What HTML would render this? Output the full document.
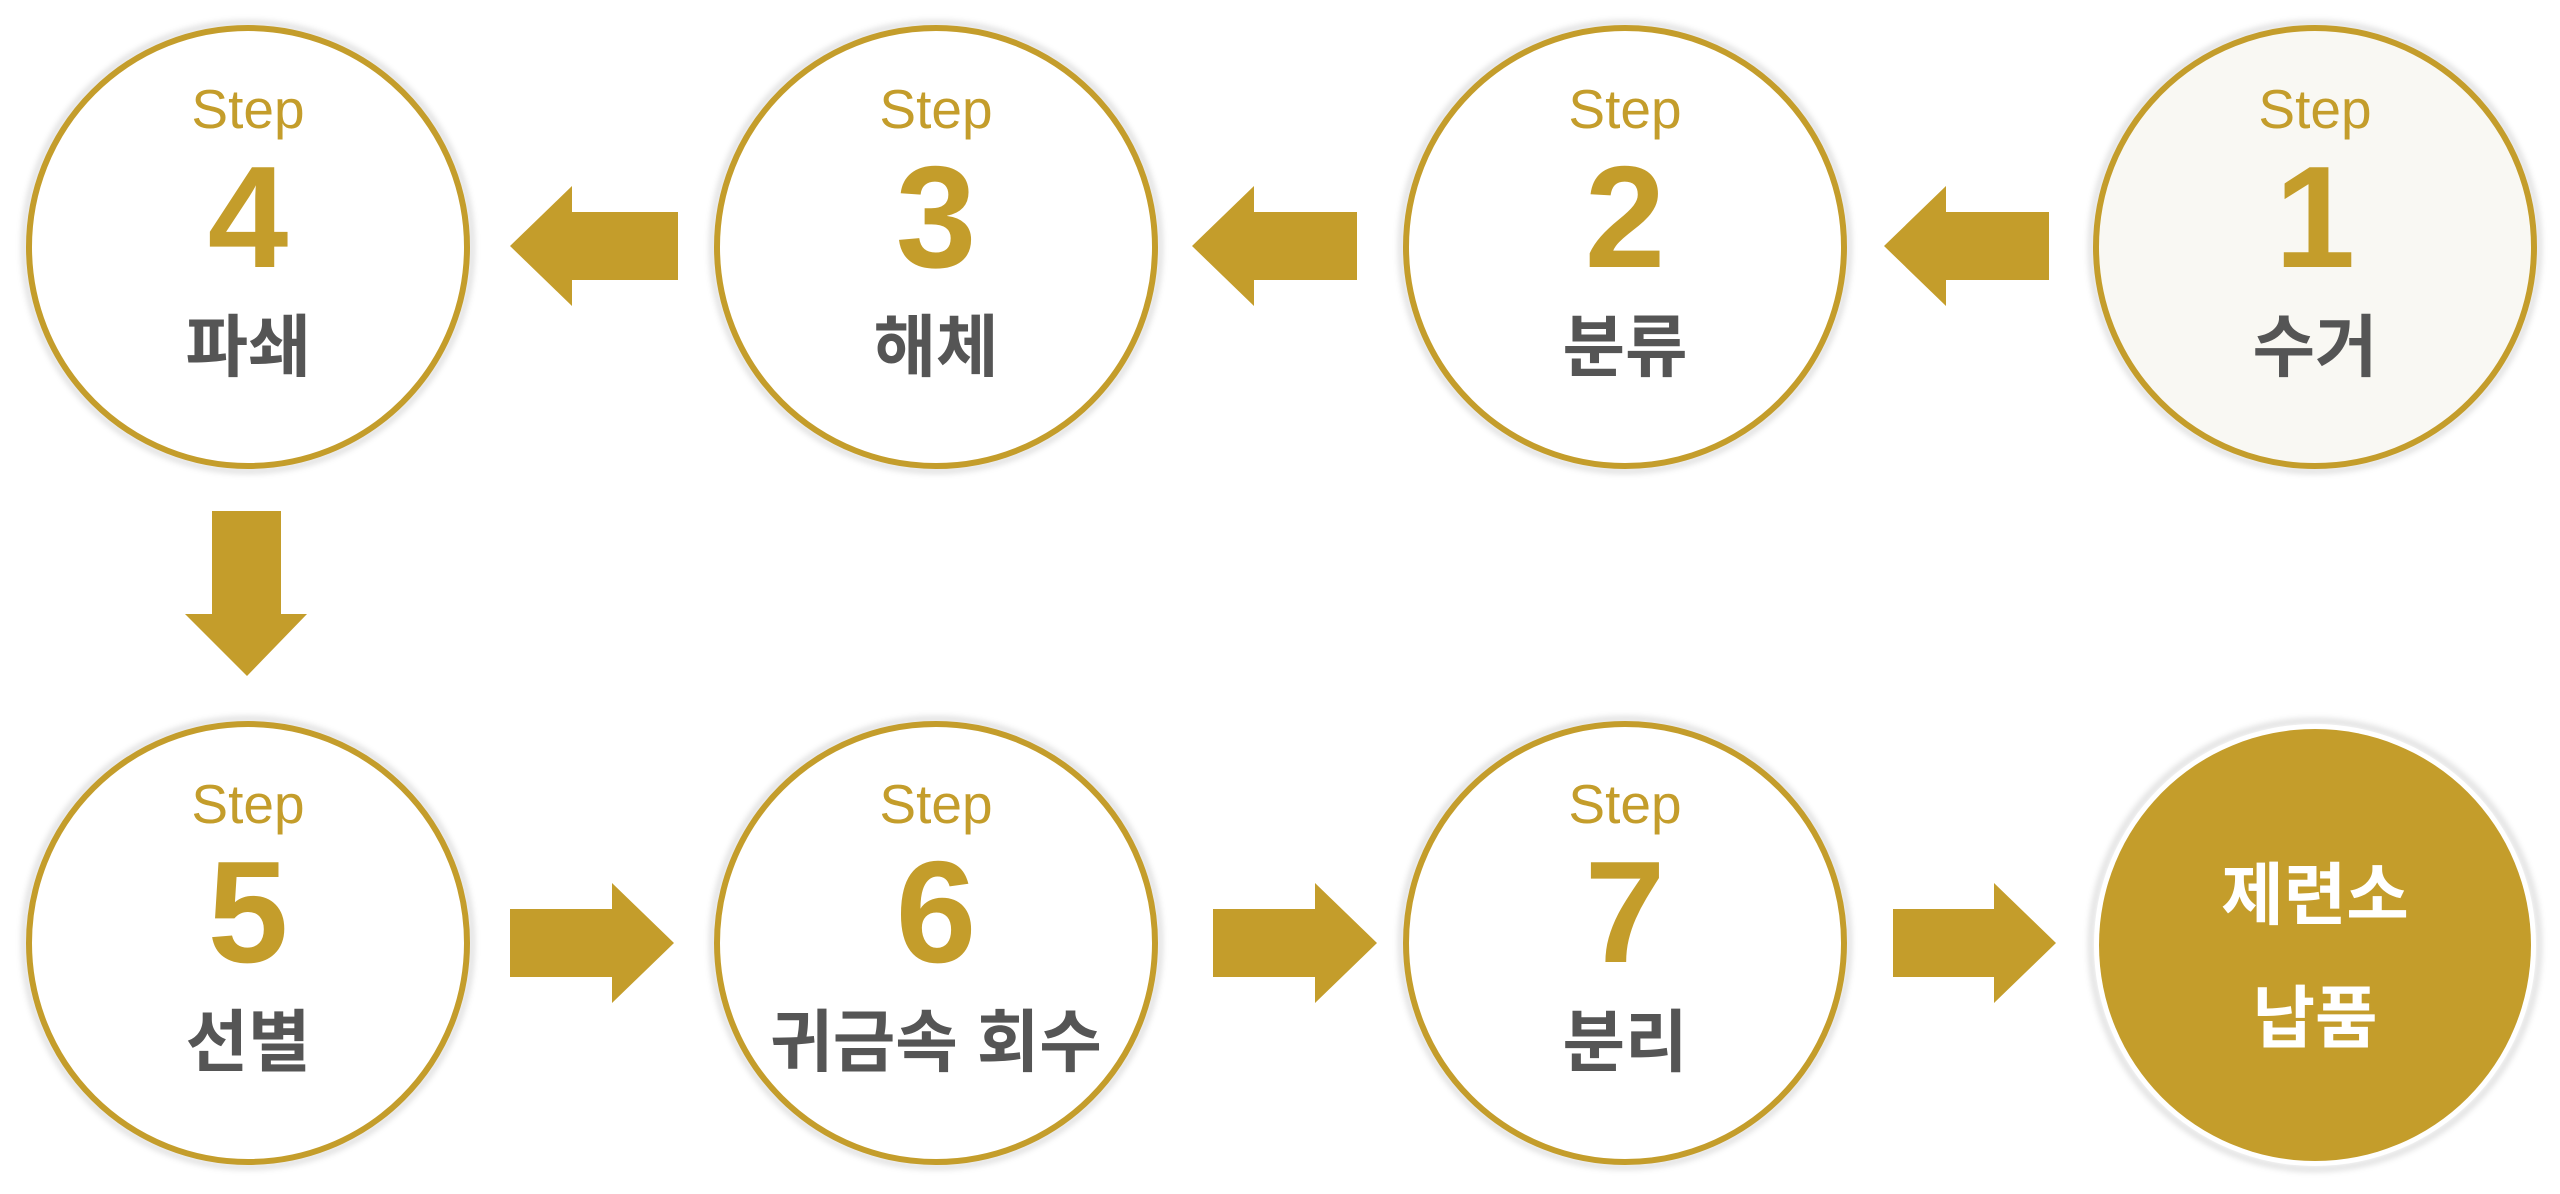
<!DOCTYPE html>
<html><head><meta charset="utf-8"><style>html,body{margin:0;padding:0;background:#fff;}svg{display:block}</style></head>
<body>
<svg width="2560" height="1194" viewBox="0 0 2560 1194" xmlns="http://www.w3.org/2000/svg">
<defs>
<filter id="sh" x="-10%" y="-10%" width="120%" height="120%"><feGaussianBlur stdDeviation="3"/></filter>
</defs>
<g fill="none" stroke="#000" stroke-opacity="0.12" stroke-width="6" filter="url(#sh)">
<circle cx="248" cy="247" r="224"/><circle cx="936" cy="247" r="224"/><circle cx="1625" cy="247" r="224"/><circle cx="2315" cy="247" r="224"/>
<circle cx="248" cy="943" r="224"/><circle cx="936" cy="943" r="224"/><circle cx="1625" cy="943" r="224"/><circle cx="2315" cy="945" r="224"/>
</g>
<g stroke="#c49d2b" stroke-width="6" fill="#fff">
<circle cx="248" cy="247" r="219"/><circle cx="936" cy="247" r="219"/><circle cx="1625" cy="247" r="219"/><circle cx="2315" cy="247" r="219" fill="#f9f8f3"/>
<circle cx="248" cy="943" r="219"/><circle cx="936" cy="943" r="219"/><circle cx="1625" cy="943" r="219"/>
</g>
<circle cx="2315" cy="945" r="221" fill="#fff"/>
<circle cx="2315" cy="945" r="216" fill="#c49d2b"/>
<g fill="#c49d2b">
<polygon points="510,246 572,186 572,212 678,212 678,280 572,280 572,306"/>
<polygon points="1192,246 1254,186 1254,212 1357,212 1357,280 1254,280 1254,306"/>
<polygon points="1884,246 1946,186 1946,212 2049,212 2049,280 1946,280 1946,306"/>
<polygon points="247,676 185,614 212,614 212,511 281,511 281,614 307,614"/>
<polygon points="674,943 612,883 612,909 510,909 510,977 612,977 612,1003"/>
<polygon points="1377,943 1315,883 1315,909 1213,909 1213,977 1315,977 1315,1003"/>
<polygon points="2056,943 1994,883 1994,909 1893,909 1893,977 1994,977 1994,1003"/>
</g>
<g font-family="Liberation Sans, sans-serif" text-anchor="middle" fill="#c49d2b">
<g font-size="55"><text x="248" y="128">Step</text><text x="936" y="128">Step</text><text x="1625" y="128">Step</text><text x="2315" y="128">Step</text>
<text x="248" y="823">Step</text><text x="936" y="823">Step</text><text x="1625" y="823">Step</text></g>
<g font-size="145" font-weight="bold"><text x="248" y="267">4</text><text x="936" y="267">3</text><text x="1625" y="267">2</text><text x="2315" y="267">1</text>
<text x="248" y="962">5</text><text x="936" y="962">6</text><text x="1625" y="962">7</text></g>
</g>
<g font-family="Liberation Sans, Noto Sans CJK KR, sans-serif" font-weight="bold" font-size="68" text-anchor="middle" dominant-baseline="central" fill="#555">
<text x="248" y="348">파쇄</text><text x="936" y="348">해체</text><text x="1625" y="348">분류</text><text x="2315" y="348">수거</text>
<text x="248" y="1043">선별</text><text x="936" y="1043">귀금속 회수</text><text x="1625" y="1043">분리</text>
<text x="2315" y="896" fill="#fff">제련소</text><text x="2315" y="1019" fill="#fff">납품</text>
</g>
</svg>
</body></html>
